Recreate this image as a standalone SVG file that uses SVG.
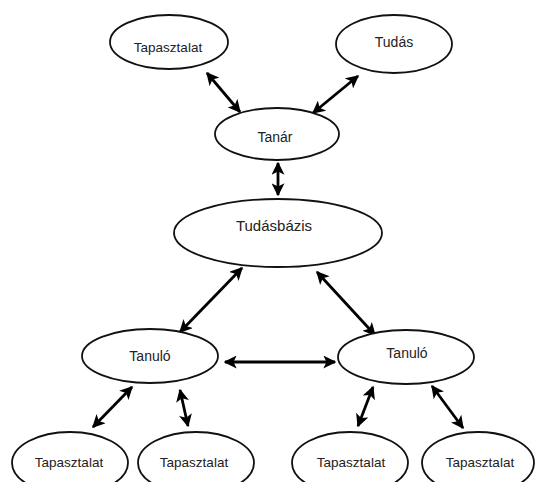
<svg xmlns="http://www.w3.org/2000/svg" width="535" height="482" viewBox="0 0 535 482">
<defs>
<style>
.n ellipse{fill:#fff;stroke:#111;stroke-width:1.8}
.n text{font-family:"Liberation Sans",Arial,sans-serif;font-size:14px;fill:#222;text-anchor:middle}
.n text.s{font-size:13.5px}
.n text.b{font-size:15px}
#edges line{stroke:#000;stroke-width:2.8;marker-start:url(#ah);marker-end:url(#ah)}
</style>
<marker id="ah" viewBox="0 0 10 10" refX="9" refY="5" markerWidth="13" markerHeight="13" markerUnits="userSpaceOnUse" orient="auto-start-reverse">
<path d="M0,0 L10,5 L0,10 L2.5,5 z" fill="#000"/>
</marker>
</defs>
<rect width="535" height="482" fill="#fff"/>
<g id="edges">
<line x1="207" y1="73" x2="240" y2="112"/>
<line x1="358" y1="76" x2="313" y2="113"/>
<line x1="278" y1="163" x2="278" y2="195"/>
<line x1="242" y1="268" x2="180" y2="332"/>
<line x1="317" y1="272" x2="375" y2="335"/>
<line x1="225" y1="362" x2="335" y2="362"/>
<line x1="132" y1="387" x2="93" y2="427"/>
<line x1="180" y1="390" x2="188" y2="426"/>
<line x1="373" y1="387" x2="358" y2="426"/>
<line x1="432" y1="386" x2="463" y2="428"/>
</g>
<g id="tapasztalat-top" class="n"><ellipse cx="169" cy="42" rx="59" ry="27"/><text class="s" x="168" y="52">Tapasztalat</text></g>
<g id="tudas" class="n"><ellipse cx="394" cy="44" rx="58" ry="29"/><text x="394" y="47">Tudás</text></g>
<g id="tanar" class="n"><ellipse cx="277" cy="134" rx="62" ry="26"/><text x="275" y="142">Tanár</text></g>
<g id="tudasbazis" class="n"><ellipse cx="278" cy="233" rx="104" ry="34"/><text class="b" x="274" y="231">Tudásbázis</text></g>
<g id="tanulo-left" class="n"><ellipse cx="150" cy="356" rx="68" ry="27"/><text x="150" y="361">Tanuló</text></g>
<g id="tanulo-right" class="n"><ellipse cx="406" cy="357" rx="68" ry="27"/><text x="407" y="358">Tanuló</text></g>
<g id="tapasztalat-1" class="n"><ellipse cx="70" cy="463" rx="58" ry="31"/><text class="s" x="69" y="467">Tapasztalat</text></g>
<g id="tapasztalat-2" class="n"><ellipse cx="196" cy="463" rx="58" ry="31"/><text class="s" x="194" y="467">Tapasztalat</text></g>
<g id="tapasztalat-3" class="n"><ellipse cx="350" cy="463" rx="58" ry="31"/><text class="s" x="351" y="467">Tapasztalat</text></g>
<g id="tapasztalat-4" class="n"><ellipse cx="478" cy="463" rx="56" ry="31"/><text class="s" x="480" y="467">Tapasztalat</text></g>
</svg>
